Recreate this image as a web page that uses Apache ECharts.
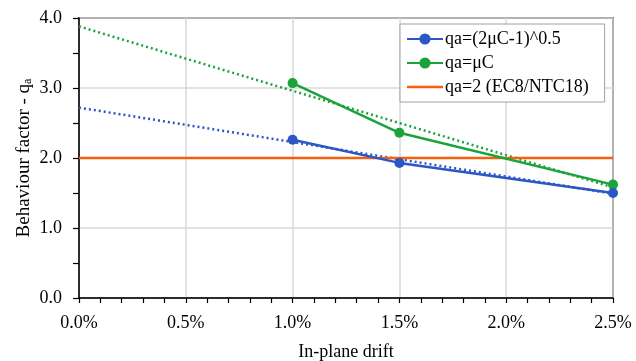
<!DOCTYPE html>
<html>
<head>
<meta charset="utf-8">
<script src="https://cdn.jsdelivr.net/npm/echarts@6/dist/echarts.min.js"></script>
<style>html,body{margin:0;padding:0;background:#fff}#c{width:636px;height:361px}</style>
</head>
<body>
<div id="c"></div>
<script>
// Data
const seriesNames = ['qa=(2\u03bcC-1)^0.5', 'qa=\u03bcC', 'qa=2 (EC8/NTC18)'];
const driftPct = [1.0, 1.5, 2.5];
const qaSqrt = [2.26, 1.93, 1.50];
const qaMuC = [3.07, 2.36, 1.62];
const refDrift = [0.0, 2.5];
const qaCode = [2.0, 2.0];
const trendDrift = [0.0, 2.5];
const trendSqrt = [2.72, 1.49];
const trendMuC = [3.88, 1.58];

const zip = (xs, ys) => xs.map((x, i) => [x, ys[i]]);
const FONT = 'Liberation Serif';
const BLUE = '#2a56c6', GREEN = '#1aa33a', ORANGE = '#f5600c';

const chart = echarts.init(document.getElementById('c'), null, {renderer: 'canvas'});
chart.setOption({
  animation: false,
  textStyle: {fontFamily: FONT, color: '#000'},
  grid: {left: 79, right: 23, top: 18, bottom: 63, containLabel: false, outerBoundsMode: 'none',
         show: true, borderColor: '#000', borderWidth: 1.5, backgroundColor: 'transparent'},
  legend: {
    data: [
      {name: seriesNames[0]},
      {name: seriesNames[1]},
      {name: seriesNames[2], icon: 'path://M0,0 L36,0 L36,2.5 L0,2.5 Z'}
    ],
    orient: 'vertical',
    left: 400, top: 24,
    backgroundColor: '#fff',
    borderColor: '#a0a0a0', borderWidth: 1,
    padding: [6, 16, 6, 6],
    itemGap: 6,
    itemWidth: 36, itemHeight: 14,
    textStyle: {fontFamily: FONT, fontSize: 18, color: '#000', padding: [0, 0, 0, -3]}
  },
  xAxis: {
    type: 'value', min: 0, max: 2.5, interval: 0.5,
    name: 'In-plane drift', nameLocation: 'middle', nameGap: 45,
    nameTextStyle: {fontFamily: FONT, fontSize: 18, color: '#000'},
    axisLine: {show: true, lineStyle: {color: '#000', width: 1.5}},
    axisTick: {show: true, inside: false, length: 5, lineStyle: {color: '#000', width: 1.2}},
    minorTick: {show: true, splitNumber: 5, length: 5, lineStyle: {color: '#000', width: 1.2}},
    axisLabel: {fontFamily: FONT, fontSize: 18, color: '#000', margin: 16, formatter: v => v.toFixed(1) + '%'},
    splitLine: {show: true, lineStyle: {color: '#d9d9d9', width: 1.5}}
  },
  yAxis: {
    type: 'value', min: 0, max: 4, interval: 1,
    name: '{a|Behaviour factor - q}{s|a}', nameLocation: 'middle', nameGap: 45, nameMoveOverlap: false,
    nameTextStyle: {
      fontFamily: FONT, fontSize: 19, color: '#000',
      rich: {
        a: {fontFamily: FONT, fontSize: 19, color: '#000', lineHeight: 22, verticalAlign: 'bottom'},
        s: {fontFamily: FONT, fontSize: 12, color: '#000', lineHeight: 13, verticalAlign: 'bottom'}
      }
    },
    axisLine: {show: true, lineStyle: {color: '#000', width: 1.5}},
    axisTick: {show: true, inside: false, length: 6, lineStyle: {color: '#000', width: 1.2}},
    minorTick: {show: true, splitNumber: 2, length: 6, lineStyle: {color: '#000', width: 1.2}},
    axisLabel: {fontFamily: FONT, fontSize: 18, color: '#000', margin: 17, formatter: v => v.toFixed(1)},
    splitLine: {show: true, lineStyle: {color: '#d9d9d9', width: 1.5}}
  },
  series: [
    {name: 'trendSqrt', type: 'line', data: zip(trendDrift, trendSqrt), symbol: 'none', silent: true,
     lineStyle: {color: BLUE, width: 2.5, type: [2, 3]}, z: 1},
    {name: 'trendMuC', type: 'line', data: zip(trendDrift, trendMuC), symbol: 'none', silent: true,
     lineStyle: {color: GREEN, width: 2.5, type: [2, 3]}, z: 1},
    {name: seriesNames[2], type: 'line', data: zip(refDrift, qaCode), symbol: 'none',
     lineStyle: {color: ORANGE, width: 2.5}, itemStyle: {color: ORANGE}, z: 2},
    {name: seriesNames[1], type: 'line', data: zip(driftPct, qaMuC), symbol: 'circle', symbolSize: 10,
     lineStyle: {color: GREEN, width: 2.5}, itemStyle: {color: GREEN}, z: 3},
    {name: seriesNames[0], type: 'line', data: zip(driftPct, qaSqrt), symbol: 'circle', symbolSize: 10,
     lineStyle: {color: BLUE, width: 2.5}, itemStyle: {color: BLUE}, z: 3}
  ]
});
</script>
</body>
</html>
